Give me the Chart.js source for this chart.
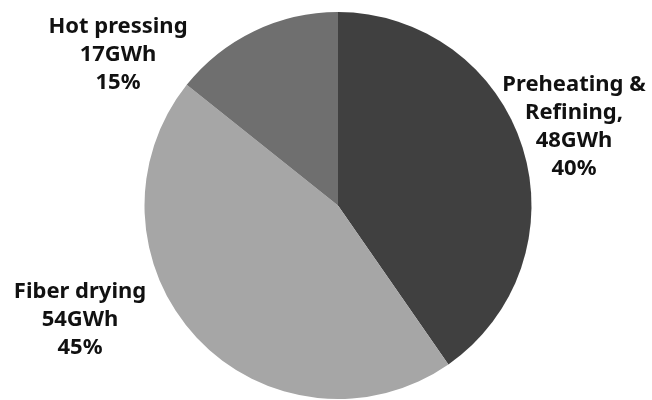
<!DOCTYPE html>
<html><head><meta charset="utf-8">
<script src="https://cdn.jsdelivr.net/npm/chart.js@4/dist/chart.umd.min.js"></script>
<style>html,body{margin:0;padding:0;background:#fff}#wrap{width:652px;height:400px}</style>
</head><body><div id="wrap"><canvas id="c" width="652" height="400"></canvas></div>
<script>
const categories = ["Preheating & Refining,", "Fiber drying", "Hot pressing"];
const energyGWh = [48, 54, 17];
const percentLabels = ["40%", "45%", "15%"];
const sliceColors = ["#404040", "#a6a6a6", "#6f6f6f"];

// label anchor (centre x, first baseline y) per slice, in canvas pixels
const labelAnchors = [[574, 91], [80, 298], [118, 33]];

const labelPlugin = {
  id: 'sliceLabels',
  afterDraw(chart) {
    const ctx = chart.ctx;
    ctx.save();
    ctx.font = 'bold 22px "Noto Sans", sans-serif';
    ctx.fillStyle = '#111';
    ctx.textAlign = 'center';
    ctx.textBaseline = 'alphabetic';
    categories.forEach((cat, i) => {
      let lines;
      if (i === 0) lines = ["Preheating &", "Refining,"];
      else lines = [cat];
      lines = lines.concat([energyGWh[i] + "GWh", percentLabels[i]]);
      const [x, y] = labelAnchors[i];
      lines.forEach((t, k) => ctx.fillText(t, x, y + k * 28));
    });
    ctx.restore();
  }
};

new Chart(document.getElementById('c'), {
  type: 'pie',
  data: { labels: categories, datasets: [{ data: energyGWh, backgroundColor: sliceColors, borderWidth: 0 }] },
  options: {
    responsive: false, animation: false,
    layout: { padding: { top: 12, bottom: 1, left: 24, right: 0 } },
    plugins: { legend: { display: false }, tooltip: { enabled: false } }
  },
  plugins: [labelPlugin]
});
</script></body></html>
